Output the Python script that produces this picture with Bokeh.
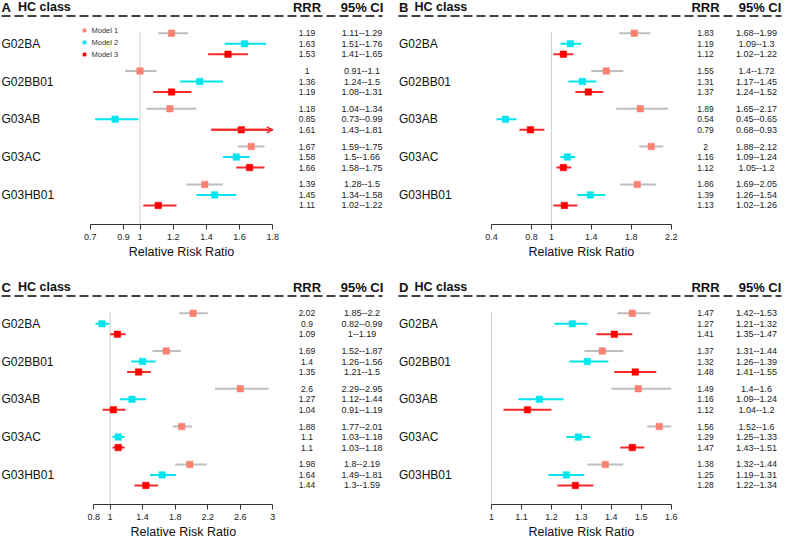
from bokeh.plotting import figure
from bokeh.models import (Range1d, FixedTicker, CustomJSTickFormatter, ColumnDataSource,
                          Arrow, OpenHead, Legend, LegendItem, Title)
from bokeh.layouts import column, row
from bokeh.embed import file_html
from bokeh.resources import INLINE
from bokeh.core.properties import value

# ---------------- data ----------------
groups = ["G02BA", "G02BB01", "G03AB", "G03AC", "G03HB01"]
models = ["Model 1", "Model 2", "Model 3"]
ref_value = 1
x_label = "Relative Risk Ratio"

# Panel A
a_rrr = [[1.19, 1.63, 1.53], [1, 1.36, 1.19], [1.18, 0.85, 1.61], [1.67, 1.58, 1.66], [1.39, 1.45, 1.11]]
a_lo = [[1.11, 1.51, 1.41], [0.91, 1.24, 1.08], [1.04, 0.73, 1.43], [1.59, 1.5, 1.58], [1.28, 1.34, 1.02]]
a_hi = [[1.29, 1.76, 1.65], [1.1, 1.5, 1.31], [1.34, 0.99, 1.81], [1.75, 1.66, 1.75], [1.5, 1.58, 1.22]]
a_ticks = [0.7, 0.9, 1, 1.2, 1.4, 1.6, 1.8]

# Panel B
b_rrr = [[1.83, 1.19, 1.12], [1.55, 1.31, 1.37], [1.89, 0.54, 0.79], [2, 1.16, 1.12], [1.86, 1.39, 1.13]]
b_lo = [[1.68, 1.09, 1.02], [1.4, 1.17, 1.24], [1.65, 0.45, 0.68], [1.88, 1.09, 1.05], [1.69, 1.26, 1.02]]
b_hi = [[1.99, 1.3, 1.22], [1.72, 1.45, 1.52], [2.17, 0.65, 0.93], [2.12, 1.24, 1.2], [2.05, 1.54, 1.26]]
b_ticks = [0.4, 0.8, 1, 1.4, 1.8, 2.2]

# Panel C
c_rrr = [[2.02, 0.9, 1.09], [1.69, 1.4, 1.35], [2.6, 1.27, 1.04], [1.88, 1.1, 1.1], [1.98, 1.64, 1.44]]
c_lo = [[1.85, 0.82, 1], [1.52, 1.26, 1.21], [2.29, 1.12, 0.91], [1.77, 1.03, 1.03], [1.8, 1.49, 1.3]]
c_hi = [[2.2, 0.99, 1.19], [1.87, 1.56, 1.5], [2.95, 1.44, 1.19], [2.01, 1.18, 1.18], [2.19, 1.81, 1.59]]
c_ticks = [0.8, 1, 1.4, 1.8, 2.2, 2.6, 3]

# Panel D
d_rrr = [[1.47, 1.27, 1.41], [1.37, 1.32, 1.48], [1.49, 1.16, 1.12], [1.56, 1.29, 1.47], [1.38, 1.25, 1.28]]
d_lo = [[1.42, 1.21, 1.35], [1.31, 1.26, 1.41], [1.4, 1.09, 1.04], [1.52, 1.25, 1.43], [1.32, 1.19, 1.22]]
d_hi = [[1.53, 1.32, 1.47], [1.44, 1.39, 1.55], [1.6, 1.24, 1.2], [1.6, 1.33, 1.51], [1.44, 1.31, 1.34]]
d_ticks = [1, 1.1, 1.2, 1.3, 1.4, 1.5, 1.6]

# ---------------- style ----------------
FONT = "Liberation Sans"
box_colors = ["#FA8072", "#00E5EE", "#FF0000"]
line_colors = ["#BEBEBE", "#00E5EE", "#F22A2A"]

AXIS_Y = 224
ROW0, GSTEP, MSTEP = 32.7, 37.8, 10.5
XLABEL_SIZE = 12.5
XLABEL_HALF_W = 8.446 * XLABEL_SIZE / 2   # half text width (Arial-metric em units)

LEFT_COLS = dict(grp=1, hc=17.5, rrr=306.5, ci=361.5, ci_hdr=361.5, d0=1, d1=382)
RIGHT_COLS = dict(grp=7.5, hc=23, rrr=314, ci=365, ci_hdr=368.5, d0=7, d1=390)


def fmt(v):
    return f"{v:g}"


def panel(letter, rrr, lo, hi, ticks, tick_px, cols, width, height, off=0, legend=False):
    t0, t1 = ticks[0], ticks[-1]
    p0, p1 = tick_px
    scale = (t1 - t0) / (p1 - p0)
    x0 = t0 - p0 * scale
    x1 = x0 + width * scale
    frame_h = AXIS_Y + off

    def X(px):
        return x0 + px * scale

    def Y(py):
        return py + off

    p = figure(width=width, height=height, x_range=Range1d(x0, x1), y_range=Range1d(frame_h, 0),
               output_backend="svg", toolbar_location=None, y_axis_location=None,
               min_border_left=0, min_border_right=0, min_border_top=0,
               min_border_bottom=height - frame_h)
    p.outline_line_color = None
    p.grid.visible = False
    p.background_fill_color = "white"
    p.border_fill_color = "white"

    # header
    p.text(x=[X(cols["grp"])], y=[Y(6.5)], text=[letter], text_font=value(FONT), text_font_size="13px",
           text_font_style="bold", text_align="left", text_baseline="middle", text_color="#111")
    p.text(x=[X(cols["hc"])], y=[Y(6.5)], text=["HC class"], text_font=value(FONT), text_font_size="12.5px",
           text_font_style="bold", text_align="left", text_baseline="middle", text_color="#111")
    p.text(x=[X(cols["rrr"]), X(cols["ci_hdr"])], y=[Y(6.5), Y(6.5)], text=["RRR", "95% CI"],
           text_font=value(FONT), text_font_size="13px", text_font_style="bold",
           text_align="center", text_baseline="middle", text_color="#111")
    p.segment(x0=[X(cols["d0"])], x1=[X(cols["d1"])], y0=[Y(15.5)], y1=[Y(15.5)], line_color="#444",
              line_width=2, line_dash="9 4")

    # reference line
    p.segment(x0=[ref_value], x1=[ref_value], y0=[Y(31)], y1=[frame_h], line_color="#CFCFCF", line_width=1)

    # group labels
    gy = [Y(ROW0 + g * GSTEP + MSTEP) for g in range(len(groups))]
    p.text(x=[X(cols["grp"])] * len(groups), y=gy, text=groups, text_font=value(FONT),
           text_font_size="12px", text_align="left", text_baseline="middle", text_color="#111")

    renderers = []
    for m in range(len(models)):
        ys = [Y(ROW0 + g * GSTEP + m * MSTEP) for g in range(len(groups))]
        rv = [rrr[g][m] for g in range(len(groups))]
        lv = [lo[g][m] for g in range(len(groups))]
        hv = [hi[g][m] for g in range(len(groups))]
        hc = [min(h, t1) for h in hv]
        lc = [max(l, t0) for l in lv]
        src = ColumnDataSource(dict(y=ys, rrr=rv, lo=lc, hi=hc,
                                    rtxt=[fmt(v) for v in rv],
                                    ctxt=[f"{fmt(a)}--{fmt(b)}" for a, b in zip(lv, hv)],
                                    xr=[X(cols["rrr"])] * len(ys), xc=[X(cols["ci"])] * len(ys)))
        p.segment(x0="lo", x1="hi", y0="y", y1="y", source=src, line_color=line_colors[m], line_width=2)
        clipped = [i for i, h in enumerate(hv) if h > t1]
        if clipped:
            asrc = ColumnDataSource(dict(y=[ys[i] for i in clipped], lo=[lc[i] for i in clipped],
                                         hi=[hc[i] for i in clipped]))
            p.add_layout(Arrow(end=OpenHead(size=6, line_color=line_colors[m], line_width=1.5),
                               x_start="lo", y_start="y", x_end="hi", y_end="y", source=asrc,
                               line_color=line_colors[m], line_width=2))
        r = p.scatter(x="rrr", y="y", source=src, marker="square", size=6.5,
                      fill_color=box_colors[m], line_color=box_colors[m], line_width=0.5)
        renderers.append(r)
        p.text(x="xr", y="y", text="rtxt", source=src, text_font=value(FONT), text_font_size="8.5px",
               text_align="center", text_baseline="middle", text_color="#222")
        p.text(x="xc", y="y", text="ctxt", source=src, text_font=value(FONT), text_font_size="9px",
               text_align="center", text_baseline="middle", text_color="#222")

    if legend:
        leg = Legend(items=[LegendItem(label=models[m], renderers=[renderers[m]]) for m in range(len(models))],
                     location=(79.5, frame_h - 60), orientation="vertical", glyph_width=8, glyph_height=12,
                     label_height=12, spacing=0, padding=0, margin=0, label_standoff=4,
                     label_text_font_size="7.5px", label_text_font=FONT, label_text_color="#333",
                     background_fill_alpha=0, border_line_color=None)
        p.add_layout(leg)

    ax = p.xaxis[0]
    ax.ticker = FixedTicker(ticks=ticks)
    ax.formatter = CustomJSTickFormatter(code="return String(tick);")
    ax.bounds = (t0, t1)
    ax.major_tick_out = 5
    ax.major_tick_in = 0
    ax.minor_tick_line_color = None
    ax.axis_line_color = "#333"
    ax.major_tick_line_color = "#333"
    ax.major_label_text_font = FONT
    ax.major_label_text_font_size = "9px"
    ax.major_label_text_color = "#222"
    ax.major_label_standoff = 4

    # axis title centred under the axis extent (not under the whole frame)
    centre_px = (p0 + p1) / 2
    p.add_layout(Title(text=x_label, align="left", offset=centre_px - XLABEL_HALF_W, standoff=0,
                       text_font=FONT, text_font_size=f"{XLABEL_SIZE}px", text_font_style="normal",
                       text_color="#111"), "below")
    return p


pA = panel("A", a_rrr, a_lo, a_hi, a_ticks, (89.7, 272.3), LEFT_COLS, 391, 270, off=0, legend=True)
pB = panel("B", b_rrr, b_lo, b_hi, b_ticks, (100, 279.7), RIGHT_COLS, 391, 270, off=0)
pC = panel("C", c_rrr, c_lo, c_hi, c_ticks, (93.3, 272.3), LEFT_COLS, 391, 270, off=10)
pD = panel("D", d_rrr, d_lo, d_hi, d_ticks, (100, 279.7), RIGHT_COLS, 391, 270, off=10)

layout = column(row(pA, pB), row(pC, pD))
open("out.html", "w").write(file_html(layout, INLINE))
